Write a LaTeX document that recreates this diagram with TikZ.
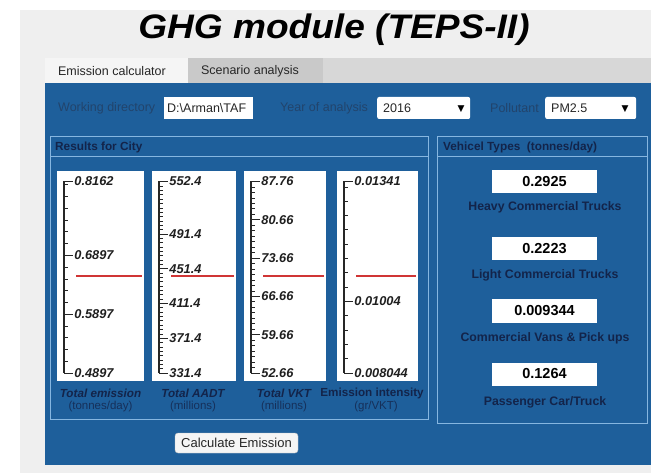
\documentclass[tikz,border=0pt]{standalone}
\usepackage{fontspec}
\usepackage{graphicx}
\setmainfont{Liberation Sans}
\newfontfamily\glyphfont{DejaVu Sans}

\definecolor{windowgray}{HTML}{EFEFEF}
\definecolor{tabon}{HTML}{F5F5F5}
\definecolor{taboff}{HTML}{C9C9C9}
\definecolor{stripgray}{HTML}{D7D7D7}
\definecolor{panelblue}{HTML}{1E5F9B}
\definecolor{framecol}{HTML}{86B6E0}
\definecolor{dimtext}{HTML}{22446C}
\definecolor{navy}{HTML}{13244A}
\definecolor{subnavy}{HTML}{16305A}
\definecolor{needlered}{HTML}{D03535}

\newcommand\fsz[1]{\fontsize{#1}{#1}\selectfont}

\tikzset{
  tabtext/.style={font=\fsz{12.5}, text=black!85, inner sep=0pt},
  dimlabel/.style={font=\fsz{12.5}, text=dimtext, anchor=west, inner sep=0pt},
  field/.style={fill=white, draw=none, inner sep=0pt, minimum height=22},
  dropbox/.style={field, rounded corners=2pt},
  fieldtext/.style={font=\fsz{12.5}, text=black!85, anchor=west, inner sep=0pt},
  arrowglyph/.style={font=\glyphfont\fsz{9}, text=black, inner sep=0pt},
  frameline/.style={draw=framecol, line width=1pt},
  frametitle/.style={font=\fsz{11.8}\bfseries, text=navy, anchor=west, inner sep=0pt},
  gaugebox/.style={fill=white, draw=none, inner sep=0pt, minimum height=210},
  axisline/.style={draw=black!85, line width=1.1pt},
  tickline/.style={draw=black!85, line width=0.8pt},
  ticklabel/.style={font=\fsz{12.8}\bfseries\itshape, text=black!88, anchor=west, inner sep=1pt},
  needle/.style={draw=needlered, line width=1.6pt},
  capmain/.style={font=\fsz{11.7}\bfseries, text=navy, inner sep=0pt},
  capsub/.style={font=\fsz{11.5}, text=subnavy, inner sep=0pt},
  valbox/.style={fill=white, draw=none, inner sep=0pt, minimum width=105, minimum height=23,
                 font=\fsz{14.5}\bfseries, text=black},
  vehlabel/.style={font=\fsz{12.3}\bfseries, text=navy, inner sep=0pt},
  button/.style={fill=tabon, draw=black!25, rounded corners=3pt, inner sep=0pt,
                 minimum width=123, minimum height=20, font=\fsz{13}, text=black!85}
}

% linear gauge: name, box left, box width, tick spacing, last minor tick,
% labelled majors (k/label), top label
\newcommand\lingauge[7]{%
  \node[gaugebox, minimum width=#3] (#1) at (#2+#3/2,276) {};
  \coordinate (#1-bot) at (#2+7,373);
  \coordinate (#1-top) at (#2+7,181);
  \draw[axisline] (#1-bot) -- (#1-top);
  \foreach \k in {0,...,#5}{\draw[tickline] ([yshift=\k*#4]#1-bot) -- ++(4,0);}
  \foreach \k/\lab in {#6}{\draw[tickline] ([yshift=\k*#4]#1-bot) -- ++(9,0) node[ticklabel] (#1-l\k) {\lab};}
  \draw[tickline] (#1-top) -- ++(9,0) node[ticklabel] (#1-max) {#7};
  \draw[needle] (#2+19,276) -- (#2+#3-2,276);
}

\begin{document}
\begin{tikzpicture}[x=1pt,y=-1pt]
\useasboundingbox (0,0) rectangle (651,473);
\fill[white] (0,0) rectangle (651,473);
\fill[windowgray] (20,10) rectangle (651,473);

% title
\node[anchor=base, inner sep=0pt, font=\fsz{34}\bfseries\itshape] (title) at (334,39)
  {\scalebox{1.09}[1]{GHG module (TEPS-II)}};

% tab strip
\fill[stripgray] (323,58) rectangle (651,83);
\node[fill=tabon, minimum width=143, minimum height=25, inner sep=0pt, anchor=north west] (tabA) at (45,58) {};
\node[tabtext] (tabAtext) at (112,71) {Emission calculator};
\node[fill=taboff, minimum width=135, minimum height=25, inner sep=0pt, anchor=north west] (tabB) at (188,58) {};
\node[tabtext] (tabBtext) at (250,71) {Scenario analysis};

% blue page
\fill[panelblue] (45,83) rectangle (651,465);

% top row of controls
\node[dimlabel] (wdlab) at (58,108) {Working directory};
\node[field, minimum width=89, anchor=west] (wdbox) at (164,108) {};
\node[fieldtext] (wdtext) at (167,108) {D:\textbackslash Arman\textbackslash TAF};
\node[dimlabel] (yrlab) at (280,108) {Year of analysis};
\node[dropbox, minimum width=93, anchor=west] (yrbox) at (377,108) {};
\node[fieldtext] (yrtext) at (383,108) {2016};
\node[arrowglyph] (yrarrow) at (461,109) {▼};
\node[dimlabel] (pollab) at (490,108) {Pollutant};
\node[dropbox, minimum width=91, anchor=west] (polbox) at (545,108) {};
\node[fieldtext] (poltext) at (551,108) {PM2.5};
\node[arrowglyph] (polarrow) at (625,109) {▼};

% results frame
\draw[frameline] (50,137) rectangle (428,419);
\draw[frameline] (50,157) -- (428,157);
\node[frametitle] (restitle) at (55,147) {Results for City};

% gauges
\lingauge{gA}{57}{87}{11.761}{16}{0/0.4897,5/0.5897,10/0.6897}{0.8162}
\lingauge{gB}{152}{84}{4.344}{44}{0/331.4,8/371.4,16/411.4,24/451.4,32/491.4}{552.4}
\lingauge{gC}{244}{82}{5.470}{34}{0/52.66,7/59.66,14/66.66,21/73.66,28/80.66}{87.76}
\lingauge{gD}{337}{81}{14.312}{13}{0/0.008044,5/0.01004}{0.01341}

% gauge captions
\node[capmain] (capA) at (100.5,393) {\itshape Total emission};
\node[capsub] (subA) at (100.5,407) {(tonnes/day)};
\node[capmain] (capB) at (193,393) {\itshape Total AADT};
\node[capsub] (subB) at (193,407) {(millions)};
\node[capmain] (capC) at (284,393) {\itshape Total VKT};
\node[capsub] (subC) at (284,407) {(millions)};
\node[capmain] (capD) at (372,393) {Emission intensity};
\node[capsub] (subD) at (376,407) {(gr/VKT)};

% calculate button
\node[button] (calc) at (236.5,443) {Calculate Emission};

% vehicle types frame
\draw[frameline] (437,137) rectangle (647,423);
\draw[frameline] (437,157) -- (647,157);
\node[frametitle] (vehtitle) at (443,147) {Vehicel Types\ \ (tonnes/day)};

\node[valbox] (vA) at (544.5,181.5) {0.2925};
\node[vehlabel] (lA) at (545,207) {Heavy Commercial Trucks};
\node[valbox] (vB) at (544.5,248.5) {0.2223};
\node[vehlabel] (lB) at (545,275) {Light Commercial Trucks};
\node[valbox] (vC) at (544.5,311) {0.009344};
\node[vehlabel] (lC) at (545,338) {Commercial Vans \& Pick ups};
\node[valbox] (vD) at (544.5,374) {0.1264};
\node[vehlabel] (lD) at (545,402) {Passenger Car/Truck};
\end{tikzpicture}
\end{document}
